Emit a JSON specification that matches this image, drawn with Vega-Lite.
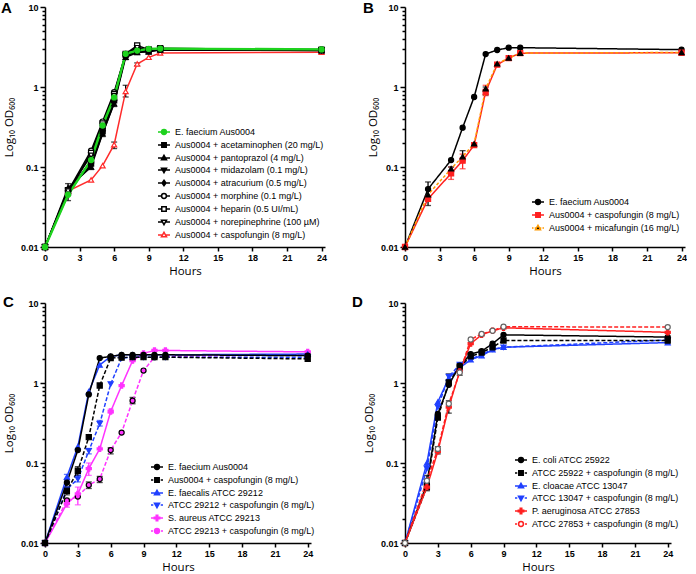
{
  "$schema": "https://vega.github.io/schema/vega-lite/v6.json",
  "background": "white",
  "padding": {"left": 1, "top": 1, "right": 0, "bottom": 0},
  "spacing": 18,
  "config": {
    "view": {"stroke": null},
    "font": "Liberation Sans",
    "axis": {"grid": false, "domainColor": "#000", "domainWidth": 1.5, "tickColor": "#000", "tickWidth": 1.5, "tickSize": 4, "labelFont": "Liberation Sans", "labelFontWeight": "bold", "labelFontSize": 9, "labelColor": "#000", "labelPadding": 2, "titleFont": "Open Sans", "titleFontWeight": "normal", "titleFontSize": 11.5, "titleColor": "#000"},
    "legend": {"labelFont": "Liberation Sans", "labelFontSize": 9, "labelColor": "#000", "symbolSize": 144, "symbolStrokeWidth": 1.5, "rowPadding": 0, "labelOffset": 4, "labelLimit": 400, "padding": 0},
    "title": {"font": "Liberation Sans", "fontSize": 15, "fontWeight": "bold", "color": "#000"}
  },
  "resolve": {"scale": {"x": "independent", "y": "independent", "color": "independent", "stroke": "independent", "fill": "independent", "shape": "independent", "strokeDash": "independent"}, "axis": {"x": "independent", "y": "independent"}, "legend": {"color": "independent", "stroke": "independent", "fill": "independent", "shape": "independent", "strokeDash": "independent"}},
  "datasets": {
    "A": [
      {"s": "Aus0004 + caspofungin (8 mg/L)", "h": 0, "v": 0.01},
      {"s": "Aus0004 + caspofungin (8 mg/L)", "h": 2, "v": 0.05},
      {"s": "Aus0004 + caspofungin (8 mg/L)", "h": 4, "v": 0.069},
      {"s": "Aus0004 + caspofungin (8 mg/L)", "h": 5, "v": 0.104},
      {"s": "Aus0004 + caspofungin (8 mg/L)", "h": 6, "v": 0.19, "lo": 0.17, "hi": 0.205},
      {"s": "Aus0004 + caspofungin (8 mg/L)", "h": 7, "v": 0.88, "lo": 0.75, "hi": 1.05},
      {"s": "Aus0004 + caspofungin (8 mg/L)", "h": 8, "v": 1.94, "lo": 1.85, "hi": 2.0},
      {"s": "Aus0004 + caspofungin (8 mg/L)", "h": 9, "v": 2.35},
      {"s": "Aus0004 + caspofungin (8 mg/L)", "h": 10, "v": 2.66},
      {"s": "Aus0004 + caspofungin (8 mg/L)", "h": 24, "v": 2.72},
      {"s": "Aus0004 + acetaminophen (20 mg/L)", "h": 0, "v": 0.01},
      {"s": "Aus0004 + acetaminophen (20 mg/L)", "h": 2, "v": 0.05},
      {"s": "Aus0004 + acetaminophen (20 mg/L)", "h": 4, "v": 0.11},
      {"s": "Aus0004 + acetaminophen (20 mg/L)", "h": 5, "v": 0.28},
      {"s": "Aus0004 + acetaminophen (20 mg/L)", "h": 6, "v": 0.68},
      {"s": "Aus0004 + acetaminophen (20 mg/L)", "h": 7, "v": 2.5},
      {"s": "Aus0004 + acetaminophen (20 mg/L)", "h": 8, "v": 2.9},
      {"s": "Aus0004 + acetaminophen (20 mg/L)", "h": 9, "v": 2.85},
      {"s": "Aus0004 + acetaminophen (20 mg/L)", "h": 10, "v": 2.95},
      {"s": "Aus0004 + acetaminophen (20 mg/L)", "h": 24, "v": 2.9},
      {"s": "Aus0004 + pantoprazol (4 mg/L)", "h": 0, "v": 0.01},
      {"s": "Aus0004 + pantoprazol (4 mg/L)", "h": 2, "v": 0.055, "lo": 0.046, "hi": 0.062},
      {"s": "Aus0004 + pantoprazol (4 mg/L)", "h": 4, "v": 0.1, "lo": 0.093, "hi": 0.11},
      {"s": "Aus0004 + pantoprazol (4 mg/L)", "h": 5, "v": 0.26},
      {"s": "Aus0004 + pantoprazol (4 mg/L)", "h": 6, "v": 0.62, "lo": 0.57, "hi": 0.68},
      {"s": "Aus0004 + pantoprazol (4 mg/L)", "h": 7, "v": 2.35, "lo": 2.2, "hi": 2.5},
      {"s": "Aus0004 + pantoprazol (4 mg/L)", "h": 8, "v": 2.7, "lo": 2.55, "hi": 2.85},
      {"s": "Aus0004 + pantoprazol (4 mg/L)", "h": 9, "v": 2.75},
      {"s": "Aus0004 + pantoprazol (4 mg/L)", "h": 10, "v": 2.9},
      {"s": "Aus0004 + pantoprazol (4 mg/L)", "h": 24, "v": 2.85},
      {"s": "Aus0004 + midazolam (0.1 mg/L)", "h": 0, "v": 0.01},
      {"s": "Aus0004 + midazolam (0.1 mg/L)", "h": 2, "v": 0.052},
      {"s": "Aus0004 + midazolam (0.1 mg/L)", "h": 4, "v": 0.105},
      {"s": "Aus0004 + midazolam (0.1 mg/L)", "h": 5, "v": 0.265, "lo": 0.24, "hi": 0.29},
      {"s": "Aus0004 + midazolam (0.1 mg/L)", "h": 6, "v": 0.63},
      {"s": "Aus0004 + midazolam (0.1 mg/L)", "h": 7, "v": 2.45},
      {"s": "Aus0004 + midazolam (0.1 mg/L)", "h": 8, "v": 2.75},
      {"s": "Aus0004 + midazolam (0.1 mg/L)", "h": 9, "v": 2.78, "lo": 2.6, "hi": 2.9},
      {"s": "Aus0004 + midazolam (0.1 mg/L)", "h": 10, "v": 2.95},
      {"s": "Aus0004 + midazolam (0.1 mg/L)", "h": 24, "v": 2.85},
      {"s": "Aus0004 + atracurium (0.5 mg/L)", "h": 0, "v": 0.01},
      {"s": "Aus0004 + atracurium (0.5 mg/L)", "h": 2, "v": 0.05},
      {"s": "Aus0004 + atracurium (0.5 mg/L)", "h": 4, "v": 0.118},
      {"s": "Aus0004 + atracurium (0.5 mg/L)", "h": 5, "v": 0.3},
      {"s": "Aus0004 + atracurium (0.5 mg/L)", "h": 6, "v": 0.7},
      {"s": "Aus0004 + atracurium (0.5 mg/L)", "h": 7, "v": 2.5},
      {"s": "Aus0004 + atracurium (0.5 mg/L)", "h": 8, "v": 2.8},
      {"s": "Aus0004 + atracurium (0.5 mg/L)", "h": 9, "v": 2.85},
      {"s": "Aus0004 + atracurium (0.5 mg/L)", "h": 10, "v": 2.95},
      {"s": "Aus0004 + atracurium (0.5 mg/L)", "h": 24, "v": 2.9},
      {"s": "Aus0004 + morphine (0.1 mg/L)", "h": 0, "v": 0.01},
      {"s": "Aus0004 + morphine (0.1 mg/L)", "h": 2, "v": 0.05},
      {"s": "Aus0004 + morphine (0.1 mg/L)", "h": 4, "v": 0.16},
      {"s": "Aus0004 + morphine (0.1 mg/L)", "h": 5, "v": 0.37},
      {"s": "Aus0004 + morphine (0.1 mg/L)", "h": 6, "v": 0.86},
      {"s": "Aus0004 + morphine (0.1 mg/L)", "h": 7, "v": 2.6},
      {"s": "Aus0004 + morphine (0.1 mg/L)", "h": 8, "v": 3.1},
      {"s": "Aus0004 + morphine (0.1 mg/L)", "h": 9, "v": 2.9},
      {"s": "Aus0004 + morphine (0.1 mg/L)", "h": 10, "v": 3.0},
      {"s": "Aus0004 + morphine (0.1 mg/L)", "h": 24, "v": 2.95},
      {"s": "Aus0004 + heparin (0.5 UI/mL)", "h": 0, "v": 0.01},
      {"s": "Aus0004 + heparin (0.5 UI/mL)", "h": 2, "v": 0.048},
      {"s": "Aus0004 + heparin (0.5 UI/mL)", "h": 4, "v": 0.15},
      {"s": "Aus0004 + heparin (0.5 UI/mL)", "h": 5, "v": 0.35},
      {"s": "Aus0004 + heparin (0.5 UI/mL)", "h": 6, "v": 0.82},
      {"s": "Aus0004 + heparin (0.5 UI/mL)", "h": 7, "v": 2.6},
      {"s": "Aus0004 + heparin (0.5 UI/mL)", "h": 8, "v": 3.3, "lo": 3.1, "hi": 3.45},
      {"s": "Aus0004 + heparin (0.5 UI/mL)", "h": 9, "v": 2.95},
      {"s": "Aus0004 + heparin (0.5 UI/mL)", "h": 10, "v": 3.05},
      {"s": "Aus0004 + heparin (0.5 UI/mL)", "h": 24, "v": 2.9},
      {"s": "Aus0004 + norepinephrine (100 µM)", "h": 0, "v": 0.01},
      {"s": "Aus0004 + norepinephrine (100 µM)", "h": 2, "v": 0.05},
      {"s": "Aus0004 + norepinephrine (100 µM)", "h": 4, "v": 0.14},
      {"s": "Aus0004 + norepinephrine (100 µM)", "h": 5, "v": 0.33},
      {"s": "Aus0004 + norepinephrine (100 µM)", "h": 6, "v": 0.78},
      {"s": "Aus0004 + norepinephrine (100 µM)", "h": 7, "v": 2.55},
      {"s": "Aus0004 + norepinephrine (100 µM)", "h": 8, "v": 3.1},
      {"s": "Aus0004 + norepinephrine (100 µM)", "h": 9, "v": 2.9},
      {"s": "Aus0004 + norepinephrine (100 µM)", "h": 10, "v": 3.0},
      {"s": "Aus0004 + norepinephrine (100 µM)", "h": 24, "v": 2.9},
      {"s": "E. faecium Aus0004", "h": 0, "v": 0.01},
      {"s": "E. faecium Aus0004", "h": 2, "v": 0.045, "lo": 0.038, "hi": 0.05},
      {"s": "E. faecium Aus0004", "h": 4, "v": 0.122},
      {"s": "E. faecium Aus0004", "h": 5, "v": 0.33},
      {"s": "E. faecium Aus0004", "h": 6, "v": 0.74},
      {"s": "E. faecium Aus0004", "h": 7, "v": 2.6},
      {"s": "E. faecium Aus0004", "h": 8, "v": 2.85},
      {"s": "E. faecium Aus0004", "h": 9, "v": 3.0},
      {"s": "E. faecium Aus0004", "h": 10, "v": 3.02},
      {"s": "E. faecium Aus0004", "h": 24, "v": 2.95}
    ],
    "B": [
      {"s": "E. faecium Aus0004", "h": 0, "v": 0.01},
      {"s": "E. faecium Aus0004", "h": 2, "v": 0.053, "lo": 0.033, "hi": 0.065},
      {"s": "E. faecium Aus0004", "h": 4, "v": 0.122},
      {"s": "E. faecium Aus0004", "h": 5, "v": 0.31},
      {"s": "E. faecium Aus0004", "h": 6, "v": 0.75},
      {"s": "E. faecium Aus0004", "h": 7, "v": 2.58},
      {"s": "E. faecium Aus0004", "h": 8, "v": 2.9},
      {"s": "E. faecium Aus0004", "h": 9, "v": 3.1},
      {"s": "E. faecium Aus0004", "h": 10, "v": 3.1},
      {"s": "E. faecium Aus0004", "h": 24, "v": 2.93},
      {"s": "Aus0004 + caspofungin (8 mg/L)", "h": 0, "v": 0.01},
      {"s": "Aus0004 + caspofungin (8 mg/L)", "h": 2, "v": 0.04},
      {"s": "Aus0004 + caspofungin (8 mg/L)", "h": 4, "v": 0.083, "lo": 0.07, "hi": 0.1},
      {"s": "Aus0004 + caspofungin (8 mg/L)", "h": 5, "v": 0.12, "lo": 0.095, "hi": 0.145},
      {"s": "Aus0004 + caspofungin (8 mg/L)", "h": 6, "v": 0.188, "lo": 0.178, "hi": 0.2},
      {"s": "Aus0004 + caspofungin (8 mg/L)", "h": 7, "v": 0.87, "lo": 0.78, "hi": 1.05},
      {"s": "Aus0004 + caspofungin (8 mg/L)", "h": 8, "v": 1.9},
      {"s": "Aus0004 + caspofungin (8 mg/L)", "h": 9, "v": 2.3},
      {"s": "Aus0004 + caspofungin (8 mg/L)", "h": 10, "v": 2.65},
      {"s": "Aus0004 + caspofungin (8 mg/L)", "h": 24, "v": 2.68},
      {"s": "Aus0004 + micafungin (16 mg/L)", "h": 0, "v": 0.01},
      {"s": "Aus0004 + micafungin (16 mg/L)", "h": 2, "v": 0.045},
      {"s": "Aus0004 + micafungin (16 mg/L)", "h": 4, "v": 0.095, "lo": 0.085, "hi": 0.1},
      {"s": "Aus0004 + micafungin (16 mg/L)", "h": 5, "v": 0.135, "lo": 0.12, "hi": 0.16},
      {"s": "Aus0004 + micafungin (16 mg/L)", "h": 6, "v": 0.195},
      {"s": "Aus0004 + micafungin (16 mg/L)", "h": 7, "v": 0.95, "lo": 0.8, "hi": 1.0},
      {"s": "Aus0004 + micafungin (16 mg/L)", "h": 8, "v": 1.95},
      {"s": "Aus0004 + micafungin (16 mg/L)", "h": 9, "v": 2.3},
      {"s": "Aus0004 + micafungin (16 mg/L)", "h": 10, "v": 2.65},
      {"s": "Aus0004 + micafungin (16 mg/L)", "h": 24, "v": 2.7}
    ],
    "C": [
      {"s": "ATCC 29213 + caspofungin (8 mg/L)", "h": 0, "v": 0.01},
      {"s": "ATCC 29213 + caspofungin (8 mg/L)", "h": 2, "v": 0.034},
      {"s": "ATCC 29213 + caspofungin (8 mg/L)", "h": 3, "v": 0.038},
      {"s": "ATCC 29213 + caspofungin (8 mg/L)", "h": 4, "v": 0.053, "lo": 0.048, "hi": 0.058},
      {"s": "ATCC 29213 + caspofungin (8 mg/L)", "h": 5, "v": 0.063, "lo": 0.057, "hi": 0.068},
      {"s": "ATCC 29213 + caspofungin (8 mg/L)", "h": 6, "v": 0.145, "lo": 0.13, "hi": 0.155},
      {"s": "ATCC 29213 + caspofungin (8 mg/L)", "h": 7, "v": 0.24},
      {"s": "ATCC 29213 + caspofungin (8 mg/L)", "h": 8, "v": 0.6, "lo": 0.55, "hi": 0.66},
      {"s": "ATCC 29213 + caspofungin (8 mg/L)", "h": 9, "v": 1.43},
      {"s": "ATCC 29213 + caspofungin (8 mg/L)", "h": 10, "v": 2.1},
      {"s": "ATCC 29213 + caspofungin (8 mg/L)", "h": 11, "v": 2.15},
      {"s": "ATCC 29213 + caspofungin (8 mg/L)", "h": 24, "v": 2.25},
      {"s": "S. aureus ATCC 29213", "h": 0, "v": 0.01},
      {"s": "S. aureus ATCC 29213", "h": 2, "v": 0.031, "lo": 0.028, "hi": 0.035},
      {"s": "S. aureus ATCC 29213", "h": 3, "v": 0.041, "lo": 0.03, "hi": 0.05},
      {"s": "S. aureus ATCC 29213", "h": 4, "v": 0.085, "lo": 0.07, "hi": 0.1},
      {"s": "S. aureus ATCC 29213", "h": 5, "v": 0.15},
      {"s": "S. aureus ATCC 29213", "h": 6, "v": 0.44, "lo": 0.42, "hi": 0.47},
      {"s": "S. aureus ATCC 29213", "h": 7, "v": 0.93},
      {"s": "S. aureus ATCC 29213", "h": 8, "v": 1.9},
      {"s": "S. aureus ATCC 29213", "h": 9, "v": 2.35},
      {"s": "S. aureus ATCC 29213", "h": 10, "v": 2.55},
      {"s": "S. aureus ATCC 29213", "h": 11, "v": 2.55},
      {"s": "S. aureus ATCC 29213", "h": 24, "v": 2.45},
      {"s": "ATCC 29212 + caspofungin (8 mg/L)", "h": 0, "v": 0.01},
      {"s": "ATCC 29212 + caspofungin (8 mg/L)", "h": 2, "v": 0.047},
      {"s": "ATCC 29212 + caspofungin (8 mg/L)", "h": 3, "v": 0.063, "lo": 0.058, "hi": 0.07},
      {"s": "ATCC 29212 + caspofungin (8 mg/L)", "h": 4, "v": 0.142, "lo": 0.13, "hi": 0.152},
      {"s": "ATCC 29212 + caspofungin (8 mg/L)", "h": 5, "v": 0.31, "lo": 0.29, "hi": 0.34},
      {"s": "ATCC 29212 + caspofungin (8 mg/L)", "h": 6, "v": 0.97},
      {"s": "ATCC 29212 + caspofungin (8 mg/L)", "h": 7, "v": 2.05},
      {"s": "ATCC 29212 + caspofungin (8 mg/L)", "h": 8, "v": 2.1},
      {"s": "ATCC 29212 + caspofungin (8 mg/L)", "h": 9, "v": 2.1},
      {"s": "ATCC 29212 + caspofungin (8 mg/L)", "h": 10, "v": 2.1},
      {"s": "ATCC 29212 + caspofungin (8 mg/L)", "h": 11, "v": 2.1},
      {"s": "ATCC 29212 + caspofungin (8 mg/L)", "h": 24, "v": 2.1},
      {"s": "E. faecalis ATCC 29212", "h": 0, "v": 0.01},
      {"s": "E. faecalis ATCC 29212", "h": 2, "v": 0.067, "lo": 0.062, "hi": 0.072},
      {"s": "E. faecalis ATCC 29212", "h": 3, "v": 0.16},
      {"s": "E. faecalis ATCC 29212", "h": 4, "v": 0.78},
      {"s": "E. faecalis ATCC 29212", "h": 5, "v": 1.68},
      {"s": "E. faecalis ATCC 29212", "h": 6, "v": 2.15},
      {"s": "E. faecalis ATCC 29212", "h": 7, "v": 2.25},
      {"s": "E. faecalis ATCC 29212", "h": 8, "v": 2.25},
      {"s": "E. faecalis ATCC 29212", "h": 9, "v": 2.25},
      {"s": "E. faecalis ATCC 29212", "h": 10, "v": 2.25},
      {"s": "E. faecalis ATCC 29212", "h": 11, "v": 2.25},
      {"s": "E. faecalis ATCC 29212", "h": 24, "v": 2.3},
      {"s": "Aus0004 + caspofungin (8 mg/L)", "h": 0, "v": 0.01},
      {"s": "Aus0004 + caspofungin (8 mg/L)", "h": 2, "v": 0.045, "lo": 0.04, "hi": 0.062},
      {"s": "Aus0004 + caspofungin (8 mg/L)", "h": 3, "v": 0.08, "lo": 0.07, "hi": 0.09},
      {"s": "Aus0004 + caspofungin (8 mg/L)", "h": 4, "v": 0.21},
      {"s": "Aus0004 + caspofungin (8 mg/L)", "h": 5, "v": 0.93},
      {"s": "Aus0004 + caspofungin (8 mg/L)", "h": 6, "v": 2.05},
      {"s": "Aus0004 + caspofungin (8 mg/L)", "h": 7, "v": 2.08},
      {"s": "Aus0004 + caspofungin (8 mg/L)", "h": 8, "v": 2.1},
      {"s": "Aus0004 + caspofungin (8 mg/L)", "h": 9, "v": 2.1},
      {"s": "Aus0004 + caspofungin (8 mg/L)", "h": 10, "v": 2.1},
      {"s": "Aus0004 + caspofungin (8 mg/L)", "h": 11, "v": 2.1},
      {"s": "Aus0004 + caspofungin (8 mg/L)", "h": 24, "v": 2.0},
      {"s": "E. faecium Aus0004", "h": 0, "v": 0.01},
      {"s": "E. faecium Aus0004", "h": 2, "v": 0.057},
      {"s": "E. faecium Aus0004", "h": 3, "v": 0.145},
      {"s": "E. faecium Aus0004", "h": 4, "v": 0.72},
      {"s": "E. faecium Aus0004", "h": 5, "v": 2.05},
      {"s": "E. faecium Aus0004", "h": 6, "v": 2.15},
      {"s": "E. faecium Aus0004", "h": 7, "v": 2.25},
      {"s": "E. faecium Aus0004", "h": 8, "v": 2.25},
      {"s": "E. faecium Aus0004", "h": 9, "v": 2.25},
      {"s": "E. faecium Aus0004", "h": 10, "v": 2.25},
      {"s": "E. faecium Aus0004", "h": 11, "v": 2.25},
      {"s": "E. faecium Aus0004", "h": 24, "v": 2.2}
    ],
    "D": [
      {"s": "E. cloacae ATCC 13047", "h": 0, "v": 0.01},
      {"s": "E. cloacae ATCC 13047", "h": 2, "v": 0.1},
      {"s": "E. cloacae ATCC 13047", "h": 3, "v": 0.58},
      {"s": "E. cloacae ATCC 13047", "h": 4, "v": 1.15},
      {"s": "E. cloacae ATCC 13047", "h": 5, "v": 1.55},
      {"s": "E. cloacae ATCC 13047", "h": 6, "v": 1.95},
      {"s": "E. cloacae ATCC 13047", "h": 7, "v": 2.2},
      {"s": "E. cloacae ATCC 13047", "h": 8, "v": 2.6},
      {"s": "E. cloacae ATCC 13047", "h": 9, "v": 2.8},
      {"s": "E. cloacae ATCC 13047", "h": 24, "v": 3.2},
      {"s": "ATCC 13047 + caspofungin (8 mg/L)", "h": 0, "v": 0.01},
      {"s": "ATCC 13047 + caspofungin (8 mg/L)", "h": 2, "v": 0.085},
      {"s": "ATCC 13047 + caspofungin (8 mg/L)", "h": 3, "v": 0.5},
      {"s": "ATCC 13047 + caspofungin (8 mg/L)", "h": 4, "v": 1.2, "lo": 1.1, "hi": 1.3},
      {"s": "ATCC 13047 + caspofungin (8 mg/L)", "h": 5, "v": 1.7},
      {"s": "ATCC 13047 + caspofungin (8 mg/L)", "h": 6, "v": 2.0},
      {"s": "ATCC 13047 + caspofungin (8 mg/L)", "h": 7, "v": 2.25},
      {"s": "ATCC 13047 + caspofungin (8 mg/L)", "h": 8, "v": 2.65},
      {"s": "ATCC 13047 + caspofungin (8 mg/L)", "h": 9, "v": 2.8},
      {"s": "ATCC 13047 + caspofungin (8 mg/L)", "h": 24, "v": 3.45},
      {"s": "E. coli ATCC 25922", "h": 0, "v": 0.01},
      {"s": "E. coli ATCC 25922", "h": 2, "v": 0.055, "lo": 0.045, "hi": 0.062},
      {"s": "E. coli ATCC 25922", "h": 3, "v": 0.41},
      {"s": "E. coli ATCC 25922", "h": 4, "v": 0.95},
      {"s": "E. coli ATCC 25922", "h": 5, "v": 1.65},
      {"s": "E. coli ATCC 25922", "h": 6, "v": 2.3},
      {"s": "E. coli ATCC 25922", "h": 7, "v": 2.5},
      {"s": "E. coli ATCC 25922", "h": 8, "v": 3.1},
      {"s": "E. coli ATCC 25922", "h": 9, "v": 4.0},
      {"s": "E. coli ATCC 25922", "h": 24, "v": 3.75},
      {"s": "ATCC 25922 + caspofungin (8 mg/L)", "h": 0, "v": 0.01},
      {"s": "ATCC 25922 + caspofungin (8 mg/L)", "h": 2, "v": 0.05},
      {"s": "ATCC 25922 + caspofungin (8 mg/L)", "h": 3, "v": 0.37},
      {"s": "ATCC 25922 + caspofungin (8 mg/L)", "h": 4, "v": 1.02},
      {"s": "ATCC 25922 + caspofungin (8 mg/L)", "h": 5, "v": 1.6, "lo": 1.25, "hi": 1.75},
      {"s": "ATCC 25922 + caspofungin (8 mg/L)", "h": 6, "v": 2.15},
      {"s": "ATCC 25922 + caspofungin (8 mg/L)", "h": 7, "v": 2.4},
      {"s": "ATCC 25922 + caspofungin (8 mg/L)", "h": 8, "v": 2.8},
      {"s": "ATCC 25922 + caspofungin (8 mg/L)", "h": 9, "v": 3.4},
      {"s": "ATCC 25922 + caspofungin (8 mg/L)", "h": 24, "v": 3.4},
      {"s": "P. aeruginosa ATCC 27853", "h": 0, "v": 0.01},
      {"s": "P. aeruginosa ATCC 27853", "h": 2, "v": 0.05},
      {"s": "P. aeruginosa ATCC 27853", "h": 3, "v": 0.14, "lo": 0.13, "hi": 0.16},
      {"s": "P. aeruginosa ATCC 27853", "h": 4, "v": 0.5, "lo": 0.42, "hi": 0.6},
      {"s": "P. aeruginosa ATCC 27853", "h": 5, "v": 1.4},
      {"s": "P. aeruginosa ATCC 27853", "h": 6, "v": 3.1},
      {"s": "P. aeruginosa ATCC 27853", "h": 7, "v": 4.0},
      {"s": "P. aeruginosa ATCC 27853", "h": 8, "v": 4.5},
      {"s": "P. aeruginosa ATCC 27853", "h": 9, "v": 4.9},
      {"s": "P. aeruginosa ATCC 27853", "h": 24, "v": 4.3},
      {"s": "ATCC 27853 + caspofungin (8 mg/L)", "h": 0, "v": 0.01},
      {"s": "ATCC 27853 + caspofungin (8 mg/L)", "h": 2, "v": 0.06, "lo": 0.055, "hi": 0.07},
      {"s": "ATCC 27853 + caspofungin (8 mg/L)", "h": 3, "v": 0.15},
      {"s": "ATCC 27853 + caspofungin (8 mg/L)", "h": 4, "v": 0.55},
      {"s": "ATCC 27853 + caspofungin (8 mg/L)", "h": 5, "v": 1.35},
      {"s": "ATCC 27853 + caspofungin (8 mg/L)", "h": 6, "v": 3.5},
      {"s": "ATCC 27853 + caspofungin (8 mg/L)", "h": 7, "v": 4.1},
      {"s": "ATCC 27853 + caspofungin (8 mg/L)", "h": 8, "v": 4.5},
      {"s": "ATCC 27853 + caspofungin (8 mg/L)", "h": 9, "v": 5.05},
      {"s": "ATCC 27853 + caspofungin (8 mg/L)", "h": 24, "v": 5.0}
    ]
  },
  "vconcat": [
    {
      "spacing": 36,
      "resolve": {"scale": {"x": "independent", "y": "independent", "color": "independent", "stroke": "independent", "fill": "independent", "shape": "independent", "strokeDash": "independent"}, "axis": {"x": "independent", "y": "independent"}, "legend": {"color": "independent", "stroke": "independent", "fill": "independent", "shape": "independent", "strokeDash": "independent"}},
      "hconcat": [
        {
          "width": 280, "height": 240,
          "title": {"text": "A", "anchor": "start", "frame": "group", "dx": -44, "dy": 20, "offset": -5, "baseline": "alphabetic"},
          "data": {"name": "A"},
          "resolve": {"scale": {"color": "independent", "stroke": "independent", "fill": "independent", "shape": "independent", "strokeDash": "independent"}},
          "encoding": {
            "x": {"field": "h", "type": "quantitative", "scale": {"domain": [0, 24.3], "nice": false, "zero": false}, "axis": {"title": "Hours", "values": [0, 3, 6, 9, 12, 15, 18, 21, 24], "labelOverlap": false, "labelFlush": false, "titlePadding": 3}},
            "y": {"field": "v", "type": "quantitative", "scale": {"type": "log", "domain": [0.01, 10], "nice": false}, "axis": {"title": "Log₁₀ OD₆₀₀", "values": [0.01, 0.02, 0.03, 0.04, 0.05, 0.06, 0.07, 0.08, 0.09, 0.1, 0.2, 0.3, 0.4, 0.5, 0.6, 0.7, 0.8, 0.9, 1, 2, 3, 4, 5, 6, 7, 8, 9, 10], "labelExpr": "datum.value == 0.01 ? '0.01' : datum.value == 0.1 ? '0.1' : datum.value == 1 ? '1' : datum.value == 10 ? '10' : ''", "tickSize": {"condition": {"test": "datum.value == 0.01 || datum.value == 0.1 || datum.value == 1 || datum.value == 10", "value": 5}, "value": 3}, "labelOverlap": false, "titlePadding": 6}}
          },
          "layer": [
            {
              "transform": [{"filter": "isValid(datum.lo)"}],
              "mark": {"type": "errorbar", "orient": "vertical", "thickness": 1.3, "ticks": {"size": 6}},
              "encoding": {
                "y": {"field": "lo", "type": "quantitative", "scale": {"type": "log", "domain": [0.01, 10], "nice": false}, "axis": {"title": "Log₁₀ OD₆₀₀", "values": [0.01, 0.02, 0.03, 0.04, 0.05, 0.06, 0.07, 0.08, 0.09, 0.1, 0.2, 0.3, 0.4, 0.5, 0.6, 0.7, 0.8, 0.9, 1, 2, 3, 4, 5, 6, 7, 8, 9, 10], "labelExpr": "datum.value == 0.01 ? '0.01' : datum.value == 0.1 ? '0.1' : datum.value == 1 ? '1' : datum.value == 10 ? '10' : ''", "tickSize": {"condition": {"test": "datum.value == 0.01 || datum.value == 0.1 || datum.value == 1 || datum.value == 10", "value": 5}, "value": 3}, "labelOverlap": false, "titlePadding": 6}},
                "y2": {"field": "hi"},
                "color": {"field": "s", "type": "nominal", "legend": null, "scale": {"domain": ["E. faecium Aus0004", "Aus0004 + acetaminophen (20 mg/L)", "Aus0004 + pantoprazol (4 mg/L)", "Aus0004 + midazolam (0.1 mg/L)", "Aus0004 + atracurium (0.5 mg/L)", "Aus0004 + morphine (0.1 mg/L)", "Aus0004 + heparin (0.5 UI/mL)", "Aus0004 + norepinephrine (100 µM)", "Aus0004 + caspofungin (8 mg/L)"], "range": ["#000", "#000", "#000", "#000", "#000", "#000", "#000", "#000", "#000"]}}
              }
            },
            {
              "mark": {"type": "line", "strokeWidth": 1.5},
              "encoding": {
                "stroke": {"field": "s", "type": "nominal", "legend": null, "scale": {"domain": ["E. faecium Aus0004", "Aus0004 + acetaminophen (20 mg/L)", "Aus0004 + pantoprazol (4 mg/L)", "Aus0004 + midazolam (0.1 mg/L)", "Aus0004 + atracurium (0.5 mg/L)", "Aus0004 + morphine (0.1 mg/L)", "Aus0004 + heparin (0.5 UI/mL)", "Aus0004 + norepinephrine (100 µM)", "Aus0004 + caspofungin (8 mg/L)"], "range": ["#1ed21e", "#000", "#000", "#000", "#000", "#000", "#000", "#000", "#ff2b2b"]}}
              }
            },
            {
              "transform": [{"filter": "datum.s == 'E. faecium Aus0004'"}],
              "mark": {"type": "line", "strokeWidth": 2.4, "color": "#1ed21e"}
            },
            {
              "mark": {"type": "point", "size": 26, "strokeWidth": 1.2, "opacity": 1},
              "encoding": {
                "stroke": {"field": "s", "type": "nominal", "legend": null, "scale": {"domain": ["E. faecium Aus0004", "Aus0004 + acetaminophen (20 mg/L)", "Aus0004 + pantoprazol (4 mg/L)", "Aus0004 + midazolam (0.1 mg/L)", "Aus0004 + atracurium (0.5 mg/L)", "Aus0004 + morphine (0.1 mg/L)", "Aus0004 + heparin (0.5 UI/mL)", "Aus0004 + norepinephrine (100 µM)", "Aus0004 + caspofungin (8 mg/L)"], "range": ["#1ed21e", "#000", "#000", "#000", "#000", "#000", "#000", "#000", "#ff2b2b"]}},
                "fill": {"field": "s", "type": "nominal", "legend": null, "scale": {"domain": ["E. faecium Aus0004", "Aus0004 + acetaminophen (20 mg/L)", "Aus0004 + pantoprazol (4 mg/L)", "Aus0004 + midazolam (0.1 mg/L)", "Aus0004 + atracurium (0.5 mg/L)", "Aus0004 + morphine (0.1 mg/L)", "Aus0004 + heparin (0.5 UI/mL)", "Aus0004 + norepinephrine (100 µM)", "Aus0004 + caspofungin (8 mg/L)"], "range": ["#1ed21e", "#000", "#000", "#000", "#000", "#fff", "#fff", "#fff", "#fff"]}},
                "shape": {"field": "s", "type": "nominal", "legend": null, "scale": {"domain": ["E. faecium Aus0004", "Aus0004 + acetaminophen (20 mg/L)", "Aus0004 + pantoprazol (4 mg/L)", "Aus0004 + midazolam (0.1 mg/L)", "Aus0004 + atracurium (0.5 mg/L)", "Aus0004 + morphine (0.1 mg/L)", "Aus0004 + heparin (0.5 UI/mL)", "Aus0004 + norepinephrine (100 µM)", "Aus0004 + caspofungin (8 mg/L)"], "range": ["circle", "square", "triangle-up", "triangle-down", "diamond", "circle", "square", "triangle-down", "triangle-up"]}}
              }
            },
            {
              "transform": [{"filter": "false"}],
              "mark": {"type": "point", "size": 144, "strokeWidth": 1.5, "opacity": 1},
              "encoding": {
                "stroke": {"field": "s", "type": "nominal", "legend": {"title": null, "orient": "none", "legendX": 112, "legendY": 118, "symbolFillColor": "#fff", "symbolStrokeColor": "#000"}, "scale": {"domain": ["E. faecium Aus0004", "Aus0004 + acetaminophen (20 mg/L)", "Aus0004 + pantoprazol (4 mg/L)", "Aus0004 + midazolam (0.1 mg/L)", "Aus0004 + atracurium (0.5 mg/L)", "Aus0004 + morphine (0.1 mg/L)", "Aus0004 + heparin (0.5 UI/mL)", "Aus0004 + norepinephrine (100 µM)", "Aus0004 + caspofungin (8 mg/L)"], "range": ["#1ed21e", "#000", "#000", "#000", "#000", "#000", "#000", "#000", "#ff2b2b"]}},
                "fill": {"field": "s", "type": "nominal", "legend": {"title": null, "orient": "none", "legendX": 112, "legendY": 118, "symbolFillColor": "#fff", "symbolStrokeColor": "#000"}, "scale": {"domain": ["E. faecium Aus0004", "Aus0004 + acetaminophen (20 mg/L)", "Aus0004 + pantoprazol (4 mg/L)", "Aus0004 + midazolam (0.1 mg/L)", "Aus0004 + atracurium (0.5 mg/L)", "Aus0004 + morphine (0.1 mg/L)", "Aus0004 + heparin (0.5 UI/mL)", "Aus0004 + norepinephrine (100 µM)", "Aus0004 + caspofungin (8 mg/L)"], "range": ["#1ed21e", "#000", "#000", "#000", "#000", "#fff", "#fff", "#fff", "#fff"]}},
                "shape": {"field": "s", "type": "nominal", "legend": {"title": null, "orient": "none", "legendX": 112, "legendY": 118, "symbolFillColor": "#fff", "symbolStrokeColor": "#000"}, "scale": {"domain": ["E. faecium Aus0004", "Aus0004 + acetaminophen (20 mg/L)", "Aus0004 + pantoprazol (4 mg/L)", "Aus0004 + midazolam (0.1 mg/L)", "Aus0004 + atracurium (0.5 mg/L)", "Aus0004 + morphine (0.1 mg/L)", "Aus0004 + heparin (0.5 UI/mL)", "Aus0004 + norepinephrine (100 µM)", "Aus0004 + caspofungin (8 mg/L)"], "range": [
                  "M-1,0H1M0.4,0A0.4,0.4 0 1,1 -0.4,0A0.4,0.4 0 1,1 0.4,0Z",
                  "M-1,0H1M-0.37,-0.37H0.37V0.37H-0.37Z",
                  "M-1,0H1M0,-0.45L0.42,0.3H-0.42Z",
                  "M-1,0H1M0,0.45L0.42,-0.3H-0.42Z",
                  "M-1,0H1M0,-0.45L0.32,0L0,0.45L-0.32,0Z",
                  "M-1,0H-0.4M0.4,0H1M0.4,0A0.4,0.4 0 1,1 -0.4,0A0.4,0.4 0 1,1 0.4,0Z",
                  "M-1,0H-0.37M0.37,0H1M-0.37,-0.37H0.37V0.37H-0.37Z",
                  "M-1,0H-0.25M0.25,0H1M0,0.45L0.42,-0.3H-0.42Z",
                  "M-1,0H-0.25M0.25,0H1M0,-0.45L0.42,0.3H-0.42Z"
                ]}}
              }
            }
          ]
        },
        {
          "width": 280, "height": 240,
          "title": {"text": "B", "anchor": "start", "frame": "group", "dx": -42, "dy": 20, "offset": -5, "baseline": "alphabetic"},
          "data": {"name": "B"},
          "resolve": {"scale": {"color": "independent", "stroke": "independent", "fill": "independent", "shape": "independent", "strokeDash": "independent"}},
          "encoding": {
            "x": {"field": "h", "type": "quantitative", "scale": {"domain": [0, 24.3], "nice": false, "zero": false}, "axis": {"title": "Hours", "values": [0, 3, 6, 9, 12, 15, 18, 21, 24], "labelOverlap": false, "labelFlush": false, "titlePadding": 3}},
            "y": {"field": "v", "type": "quantitative", "scale": {"type": "log", "domain": [0.01, 10], "nice": false}, "axis": {"title": "Log₁₀ OD₆₀₀", "values": [0.01, 0.02, 0.03, 0.04, 0.05, 0.06, 0.07, 0.08, 0.09, 0.1, 0.2, 0.3, 0.4, 0.5, 0.6, 0.7, 0.8, 0.9, 1, 2, 3, 4, 5, 6, 7, 8, 9, 10], "labelExpr": "datum.value == 0.01 ? '0.01' : datum.value == 0.1 ? '0.1' : datum.value == 1 ? '1' : datum.value == 10 ? '10' : ''", "tickSize": {"condition": {"test": "datum.value == 0.01 || datum.value == 0.1 || datum.value == 1 || datum.value == 10", "value": 5}, "value": 3}, "labelOverlap": false, "titlePadding": 2}}
          },
          "layer": [
            {
              "transform": [{"filter": "isValid(datum.lo)"}],
              "mark": {"type": "errorbar", "orient": "vertical", "thickness": 1.3, "ticks": {"size": 6}},
              "encoding": {
                "y": {"field": "lo", "type": "quantitative", "scale": {"type": "log", "domain": [0.01, 10], "nice": false}, "axis": {"title": "Log₁₀ OD₆₀₀", "values": [0.01, 0.02, 0.03, 0.04, 0.05, 0.06, 0.07, 0.08, 0.09, 0.1, 0.2, 0.3, 0.4, 0.5, 0.6, 0.7, 0.8, 0.9, 1, 2, 3, 4, 5, 6, 7, 8, 9, 10], "labelExpr": "datum.value == 0.01 ? '0.01' : datum.value == 0.1 ? '0.1' : datum.value == 1 ? '1' : datum.value == 10 ? '10' : ''", "tickSize": {"condition": {"test": "datum.value == 0.01 || datum.value == 0.1 || datum.value == 1 || datum.value == 10", "value": 5}, "value": 3}, "labelOverlap": false, "titlePadding": 2}},
                "y2": {"field": "hi"},
                "color": {"field": "s", "type": "nominal", "legend": null, "scale": {"domain": ["E. faecium Aus0004", "Aus0004 + caspofungin (8 mg/L)", "Aus0004 + micafungin (16 mg/L)"], "range": ["#000", "#ff2020", "#000"]}}
              }
            },
            {
              "mark": {"type": "line", "strokeWidth": 1.5},
              "encoding": {
                "stroke": {"field": "s", "type": "nominal", "legend": null, "scale": {"domain": ["E. faecium Aus0004", "Aus0004 + caspofungin (8 mg/L)", "Aus0004 + micafungin (16 mg/L)"], "range": ["#000", "#ff2020", "#ff9a00"]}},
                "strokeDash": {"field": "s", "type": "nominal", "legend": null, "scale": {"domain": ["E. faecium Aus0004", "Aus0004 + caspofungin (8 mg/L)", "Aus0004 + micafungin (16 mg/L)"], "range": [[1, 0], [1, 0], [3, 2]]}}
              }
            },
            {
              "mark": {"type": "point", "size": 26, "strokeWidth": 1.2, "opacity": 1},
              "encoding": {
                "stroke": {"field": "s", "type": "nominal", "legend": null, "scale": {"domain": ["E. faecium Aus0004", "Aus0004 + caspofungin (8 mg/L)", "Aus0004 + micafungin (16 mg/L)"], "range": ["#000", "#ff2020", "#000"]}},
                "fill": {"field": "s", "type": "nominal", "legend": null, "scale": {"domain": ["E. faecium Aus0004", "Aus0004 + caspofungin (8 mg/L)", "Aus0004 + micafungin (16 mg/L)"], "range": ["#000", "#ff2020", "#000"]}},
                "shape": {"field": "s", "type": "nominal", "legend": null, "scale": {"domain": ["E. faecium Aus0004", "Aus0004 + caspofungin (8 mg/L)", "Aus0004 + micafungin (16 mg/L)"], "range": ["circle", "square", "triangle-up"]}}
              }
            },
            {
              "transform": [{"filter": "false"}],
              "mark": {"type": "point", "size": 144, "strokeWidth": 1.5, "opacity": 1},
              "encoding": {
                "stroke": {"field": "s", "type": "nominal", "legend": {"title": null, "orient": "none", "legendX": 126, "legendY": 188, "symbolFillColor": "#fff", "symbolStrokeColor": "#000"}, "scale": {"domain": ["E. faecium Aus0004", "Aus0004 + caspofungin (8 mg/L)", "Aus0004 + micafungin (16 mg/L)"], "range": ["#000", "#ff2020", "#ff9a00"]}},
                "fill": {"field": "s", "type": "nominal", "legend": {"title": null, "orient": "none", "legendX": 126, "legendY": 188, "symbolFillColor": "#fff", "symbolStrokeColor": "#000"}, "scale": {"domain": ["E. faecium Aus0004", "Aus0004 + caspofungin (8 mg/L)", "Aus0004 + micafungin (16 mg/L)"], "range": ["#000", "#ff2020", "#000"]}},
                "shape": {"field": "s", "type": "nominal", "legend": {"title": null, "orient": "none", "legendX": 126, "legendY": 188, "symbolFillColor": "#fff", "symbolStrokeColor": "#000"}, "scale": {"domain": ["E. faecium Aus0004", "Aus0004 + caspofungin (8 mg/L)", "Aus0004 + micafungin (16 mg/L)"], "range": [
                  "M-1,0H1M0.4,0A0.4,0.4 0 1,1 -0.4,0A0.4,0.4 0 1,1 0.4,0Z",
                  "M-1,0H1M-0.37,-0.37H0.37V0.37H-0.37Z",
                  "M-1,0H-0.75M-0.55,0H-0.3M0.3,0H0.55M0.75,0H1M0,-0.45L0.42,0.3H-0.42Z"
                ]}}
              }
            }
          ]
        }
      ]
    },
    {
      "spacing": 37,
      "resolve": {"scale": {"x": "independent", "y": "independent", "color": "independent", "stroke": "independent", "fill": "independent", "shape": "independent", "strokeDash": "independent"}, "axis": {"x": "independent", "y": "independent"}, "legend": {"color": "independent", "stroke": "independent", "fill": "independent", "shape": "independent", "strokeDash": "independent"}},
      "hconcat": [
        {
          "width": 266, "height": 240,
          "title": {"text": "C", "anchor": "start", "frame": "group", "dx": -42, "dy": 18, "offset": -5, "baseline": "alphabetic"},
          "data": {"name": "C"},
          "resolve": {"scale": {"color": "independent", "stroke": "independent", "fill": "independent", "shape": "independent", "strokeDash": "independent"}},
          "encoding": {
            "x": {"field": "h", "type": "quantitative", "scale": {"domain": [0, 24.3], "nice": false, "zero": false}, "axis": {"title": "Hours", "values": [0, 3, 6, 9, 12, 15, 18, 21, 24], "labelOverlap": false, "labelFlush": false, "titlePadding": 3}},
            "y": {"field": "v", "type": "quantitative", "scale": {"type": "log", "domain": [0.01, 10], "nice": false}, "axis": {"title": "Log₁₀ OD₆₀₀", "values": [0.01, 0.02, 0.03, 0.04, 0.05, 0.06, 0.07, 0.08, 0.09, 0.1, 0.2, 0.3, 0.4, 0.5, 0.6, 0.7, 0.8, 0.9, 1, 2, 3, 4, 5, 6, 7, 8, 9, 10], "labelExpr": "datum.value == 0.01 ? '0.01' : datum.value == 0.1 ? '0.1' : datum.value == 1 ? '1' : datum.value == 10 ? '10' : ''", "tickSize": {"condition": {"test": "datum.value == 0.01 || datum.value == 0.1 || datum.value == 1 || datum.value == 10", "value": 5}, "value": 3}, "labelOverlap": false, "titlePadding": 6}}
          },
          "layer": [
            {
              "transform": [{"filter": "isValid(datum.lo)"}],
              "mark": {"type": "errorbar", "orient": "vertical", "thickness": 1.3, "ticks": {"size": 6}},
              "encoding": {
                "y": {"field": "lo", "type": "quantitative", "scale": {"type": "log", "domain": [0.01, 10], "nice": false}, "axis": {"title": "Log₁₀ OD₆₀₀", "values": [0.01, 0.02, 0.03, 0.04, 0.05, 0.06, 0.07, 0.08, 0.09, 0.1, 0.2, 0.3, 0.4, 0.5, 0.6, 0.7, 0.8, 0.9, 1, 2, 3, 4, 5, 6, 7, 8, 9, 10], "labelExpr": "datum.value == 0.01 ? '0.01' : datum.value == 0.1 ? '0.1' : datum.value == 1 ? '1' : datum.value == 10 ? '10' : ''", "tickSize": {"condition": {"test": "datum.value == 0.01 || datum.value == 0.1 || datum.value == 1 || datum.value == 10", "value": 5}, "value": 3}, "labelOverlap": false, "titlePadding": 6}},
                "y2": {"field": "hi"},
                "color": {"field": "s", "type": "nominal", "legend": null, "scale": {"domain": ["E. faecium Aus0004", "Aus0004 + caspofungin (8 mg/L)", "E. faecalis ATCC 29212", "ATCC 29212 + caspofungin (8 mg/L)", "S. aureus ATCC 29213", "ATCC 29213 + caspofungin (8 mg/L)"], "range": ["#000", "#000", "#2040ff", "#2040ff", "#ff33ff", "#000"]}}
              }
            },
            {
              "mark": {"type": "line", "strokeWidth": 1.5},
              "encoding": {
                "stroke": {"field": "s", "type": "nominal", "legend": null, "scale": {"domain": ["E. faecium Aus0004", "Aus0004 + caspofungin (8 mg/L)", "E. faecalis ATCC 29212", "ATCC 29212 + caspofungin (8 mg/L)", "S. aureus ATCC 29213", "ATCC 29213 + caspofungin (8 mg/L)"], "range": ["#000", "#000", "#2040ff", "#2040ff", "#ff33ff", "#ff33ff"]}},
                "strokeDash": {"field": "s", "type": "nominal", "legend": null, "scale": {"domain": ["E. faecium Aus0004", "Aus0004 + caspofungin (8 mg/L)", "E. faecalis ATCC 29212", "ATCC 29212 + caspofungin (8 mg/L)", "S. aureus ATCC 29213", "ATCC 29213 + caspofungin (8 mg/L)"], "range": [[1, 0], [4, 2], [1, 0], [4, 2], [1, 0], [4, 2]]}}
              }
            },
            {
              "mark": {"type": "point", "size": 26, "strokeWidth": 1.2, "opacity": 1},
              "encoding": {
                "stroke": {"field": "s", "type": "nominal", "legend": null, "scale": {"domain": ["E. faecium Aus0004", "Aus0004 + caspofungin (8 mg/L)", "E. faecalis ATCC 29212", "ATCC 29212 + caspofungin (8 mg/L)", "S. aureus ATCC 29213", "ATCC 29213 + caspofungin (8 mg/L)"], "range": ["#000", "#000", "#2040ff", "#2040ff", "#ff33ff", "#000"]}},
                "fill": {"field": "s", "type": "nominal", "legend": null, "scale": {"domain": ["E. faecium Aus0004", "Aus0004 + caspofungin (8 mg/L)", "E. faecalis ATCC 29212", "ATCC 29212 + caspofungin (8 mg/L)", "S. aureus ATCC 29213", "ATCC 29213 + caspofungin (8 mg/L)"], "range": ["#000", "#000", "#2040ff", "#2040ff", "#ff33ff", "#ff33ff"]}},
                "shape": {"field": "s", "type": "nominal", "legend": null, "scale": {"domain": ["E. faecium Aus0004", "Aus0004 + caspofungin (8 mg/L)", "E. faecalis ATCC 29212", "ATCC 29212 + caspofungin (8 mg/L)", "S. aureus ATCC 29213", "ATCC 29213 + caspofungin (8 mg/L)"], "range": ["circle", "square", "triangle-up", "triangle-down", "cross", "circle"]}}
              }
            },
            {
              "transform": [{"filter": "false"}],
              "mark": {"type": "point", "size": 144, "strokeWidth": 1.5, "opacity": 1},
              "encoding": {
                "stroke": {"field": "s", "type": "nominal", "legend": {"title": null, "orient": "none", "legendX": 105, "legendY": 157, "rowPadding": -1, "symbolFillColor": "#fff", "symbolStrokeColor": "#000"}, "scale": {"domain": ["E. faecium Aus0004", "Aus0004 + caspofungin (8 mg/L)", "E. faecalis ATCC 29212", "ATCC 29212 + caspofungin (8 mg/L)", "S. aureus ATCC 29213", "ATCC 29213 + caspofungin (8 mg/L)"], "range": ["#000", "#000", "#2040ff", "#2040ff", "#ff33ff", "#ff33ff"]}},
                "fill": {"field": "s", "type": "nominal", "legend": {"title": null, "orient": "none", "legendX": 105, "legendY": 157, "rowPadding": -1, "symbolFillColor": "#fff", "symbolStrokeColor": "#000"}, "scale": {"domain": ["E. faecium Aus0004", "Aus0004 + caspofungin (8 mg/L)", "E. faecalis ATCC 29212", "ATCC 29212 + caspofungin (8 mg/L)", "S. aureus ATCC 29213", "ATCC 29213 + caspofungin (8 mg/L)"], "range": ["#000", "#000", "#2040ff", "#2040ff", "#ff33ff", "#ff33ff"]}},
                "shape": {"field": "s", "type": "nominal", "legend": {"title": null, "orient": "none", "legendX": 105, "legendY": 157, "rowPadding": -1, "symbolFillColor": "#fff", "symbolStrokeColor": "#000"}, "scale": {"domain": ["E. faecium Aus0004", "Aus0004 + caspofungin (8 mg/L)", "E. faecalis ATCC 29212", "ATCC 29212 + caspofungin (8 mg/L)", "S. aureus ATCC 29213", "ATCC 29213 + caspofungin (8 mg/L)"], "range": [
                  "M-1,0H1M0.4,0A0.4,0.4 0 1,1 -0.4,0A0.4,0.4 0 1,1 0.4,0Z",
                  "M-1,0H-0.62M0.62,0H1M-0.37,-0.37H0.37V0.37H-0.37Z",
                  "M-1,0H1M0,-0.45L0.42,0.3H-0.42Z",
                  "M-1,0H-0.62M0.62,0H1M0,0.45L0.42,-0.3H-0.42Z",
                  "M-1,0H1M-0.13,-0.45H0.13V-0.13H0.45V0.13H0.13V0.45H-0.13V0.13H-0.45V-0.13H-0.13Z",
                  "M-1,0H-0.65M0.65,0H1M0.4,0A0.4,0.4 0 1,1 -0.4,0A0.4,0.4 0 1,1 0.4,0Z"
                ]}}
              }
            }
          ]
        },
        {
          "width": 266, "height": 240,
          "title": {"text": "D", "anchor": "start", "frame": "group", "dx": -53, "dy": 18, "offset": -5, "baseline": "alphabetic"},
          "data": {"name": "D"},
          "resolve": {"scale": {"color": "independent", "stroke": "independent", "fill": "independent", "shape": "independent", "strokeDash": "independent"}},
          "encoding": {
            "x": {"field": "h", "type": "quantitative", "scale": {"domain": [0, 24.3], "nice": false, "zero": false}, "axis": {"title": "Hours", "values": [0, 3, 6, 9, 12, 15, 18, 21, 24], "labelOverlap": false, "labelFlush": false, "titlePadding": 3}},
            "y": {"field": "v", "type": "quantitative", "scale": {"type": "log", "domain": [0.01, 10], "nice": false}, "axis": {"title": "Log₁₀ OD₆₀₀", "values": [0.01, 0.02, 0.03, 0.04, 0.05, 0.06, 0.07, 0.08, 0.09, 0.1, 0.2, 0.3, 0.4, 0.5, 0.6, 0.7, 0.8, 0.9, 1, 2, 3, 4, 5, 6, 7, 8, 9, 10], "labelExpr": "datum.value == 0.01 ? '0.01' : datum.value == 0.1 ? '0.1' : datum.value == 1 ? '1' : datum.value == 10 ? '10' : ''", "tickSize": {"condition": {"test": "datum.value == 0.01 || datum.value == 0.1 || datum.value == 1 || datum.value == 10", "value": 5}, "value": 3}, "labelOverlap": false, "titlePadding": 6}}
          },
          "layer": [
            {
              "transform": [{"filter": "isValid(datum.lo)"}],
              "mark": {"type": "errorbar", "orient": "vertical", "thickness": 1.3, "ticks": {"size": 6}},
              "encoding": {
                "y": {"field": "lo", "type": "quantitative", "scale": {"type": "log", "domain": [0.01, 10], "nice": false}, "axis": {"title": "Log₁₀ OD₆₀₀", "values": [0.01, 0.02, 0.03, 0.04, 0.05, 0.06, 0.07, 0.08, 0.09, 0.1, 0.2, 0.3, 0.4, 0.5, 0.6, 0.7, 0.8, 0.9, 1, 2, 3, 4, 5, 6, 7, 8, 9, 10], "labelExpr": "datum.value == 0.01 ? '0.01' : datum.value == 0.1 ? '0.1' : datum.value == 1 ? '1' : datum.value == 10 ? '10' : ''", "tickSize": {"condition": {"test": "datum.value == 0.01 || datum.value == 0.1 || datum.value == 1 || datum.value == 10", "value": 5}, "value": 3}, "labelOverlap": false, "titlePadding": 6}},
                "y2": {"field": "hi"},
                "color": {"field": "s", "type": "nominal", "legend": null, "scale": {"domain": ["E. coli ATCC 25922", "ATCC 25922 + caspofungin (8 mg/L)", "E. cloacae ATCC 13047", "ATCC 13047 + caspofungin (8 mg/L)", "P. aeruginosa ATCC 27853", "ATCC 27853 + caspofungin (8 mg/L)"], "range": ["#000", "#000", "#000", "#000", "#000", "#000"]}}
              }
            },
            {
              "mark": {"type": "line", "strokeWidth": 1.5},
              "encoding": {
                "stroke": {"field": "s", "type": "nominal", "legend": null, "scale": {"domain": ["E. coli ATCC 25922", "ATCC 25922 + caspofungin (8 mg/L)", "E. cloacae ATCC 13047", "ATCC 13047 + caspofungin (8 mg/L)", "P. aeruginosa ATCC 27853", "ATCC 27853 + caspofungin (8 mg/L)"], "range": ["#000", "#000", "#2040ff", "#2040ff", "#ff2020", "#ff2020"]}},
                "strokeDash": {"field": "s", "type": "nominal", "legend": null, "scale": {"domain": ["E. coli ATCC 25922", "ATCC 25922 + caspofungin (8 mg/L)", "E. cloacae ATCC 13047", "ATCC 13047 + caspofungin (8 mg/L)", "P. aeruginosa ATCC 27853", "ATCC 27853 + caspofungin (8 mg/L)"], "range": [[1, 0], [4, 2], [1, 0], [4, 2], [1, 0], [4, 2]]}}
              }
            },
            {
              "mark": {"type": "point", "size": 26, "strokeWidth": 1.2, "opacity": 1},
              "encoding": {
                "stroke": {"field": "s", "type": "nominal", "legend": null, "scale": {"domain": ["E. coli ATCC 25922", "ATCC 25922 + caspofungin (8 mg/L)", "E. cloacae ATCC 13047", "ATCC 13047 + caspofungin (8 mg/L)", "P. aeruginosa ATCC 27853", "ATCC 27853 + caspofungin (8 mg/L)"], "range": ["#000", "#000", "#2040ff", "#2040ff", "#ff2020", "#666"]}},
                "fill": {"field": "s", "type": "nominal", "legend": null, "scale": {"domain": ["E. coli ATCC 25922", "ATCC 25922 + caspofungin (8 mg/L)", "E. cloacae ATCC 13047", "ATCC 13047 + caspofungin (8 mg/L)", "P. aeruginosa ATCC 27853", "ATCC 27853 + caspofungin (8 mg/L)"], "range": ["#000", "#000", "#2040ff", "#2040ff", "#ff2020", "#fff"]}},
                "shape": {"field": "s", "type": "nominal", "legend": null, "scale": {"domain": ["E. coli ATCC 25922", "ATCC 25922 + caspofungin (8 mg/L)", "E. cloacae ATCC 13047", "ATCC 13047 + caspofungin (8 mg/L)", "P. aeruginosa ATCC 27853", "ATCC 27853 + caspofungin (8 mg/L)"], "range": ["circle", "square", "triangle-up", "triangle-down", "cross", "circle"]}}
              }
            },
            {
              "transform": [{"filter": "false"}],
              "mark": {"type": "point", "size": 144, "strokeWidth": 1.5, "opacity": 1},
              "encoding": {
                "stroke": {"field": "s", "type": "nominal", "legend": {"title": null, "orient": "none", "legendX": 109, "legendY": 150, "rowPadding": -1, "symbolFillColor": "#fff", "symbolStrokeColor": "#000"}, "scale": {"domain": ["E. coli ATCC 25922", "ATCC 25922 + caspofungin (8 mg/L)", "E. cloacae ATCC 13047", "ATCC 13047 + caspofungin (8 mg/L)", "P. aeruginosa ATCC 27853", "ATCC 27853 + caspofungin (8 mg/L)"], "range": ["#000", "#000", "#2040ff", "#2040ff", "#ff2020", "#ff2020"]}},
                "fill": {"field": "s", "type": "nominal", "legend": {"title": null, "orient": "none", "legendX": 109, "legendY": 150, "rowPadding": -1, "symbolFillColor": "#fff", "symbolStrokeColor": "#000"}, "scale": {"domain": ["E. coli ATCC 25922", "ATCC 25922 + caspofungin (8 mg/L)", "E. cloacae ATCC 13047", "ATCC 13047 + caspofungin (8 mg/L)", "P. aeruginosa ATCC 27853", "ATCC 27853 + caspofungin (8 mg/L)"], "range": ["#000", "#000", "#2040ff", "#2040ff", "#ff2020", "#fff"]}},
                "shape": {"field": "s", "type": "nominal", "legend": {"title": null, "orient": "none", "legendX": 109, "legendY": 150, "rowPadding": -1, "symbolFillColor": "#fff", "symbolStrokeColor": "#000"}, "scale": {"domain": ["E. coli ATCC 25922", "ATCC 25922 + caspofungin (8 mg/L)", "E. cloacae ATCC 13047", "ATCC 13047 + caspofungin (8 mg/L)", "P. aeruginosa ATCC 27853", "ATCC 27853 + caspofungin (8 mg/L)"], "range": [
                  "M-1,0H1M0.4,0A0.4,0.4 0 1,1 -0.4,0A0.4,0.4 0 1,1 0.4,0Z",
                  "M-1,0H-0.62M0.62,0H1M-0.37,-0.37H0.37V0.37H-0.37Z",
                  "M-1,0H1M0,-0.45L0.42,0.3H-0.42Z",
                  "M-1,0H-0.62M0.62,0H1M0,0.45L0.42,-0.3H-0.42Z",
                  "M-1,0H1M-0.13,-0.45H0.13V-0.13H0.45V0.13H0.13V0.45H-0.13V0.13H-0.45V-0.13H-0.13Z",
                  "M-1,0H-0.65M0.65,0H1M0.4,0A0.4,0.4 0 1,1 -0.4,0A0.4,0.4 0 1,1 0.4,0Z"
                ]}}
              }
            }
          ]
        }
      ]
    }
  ]
}
